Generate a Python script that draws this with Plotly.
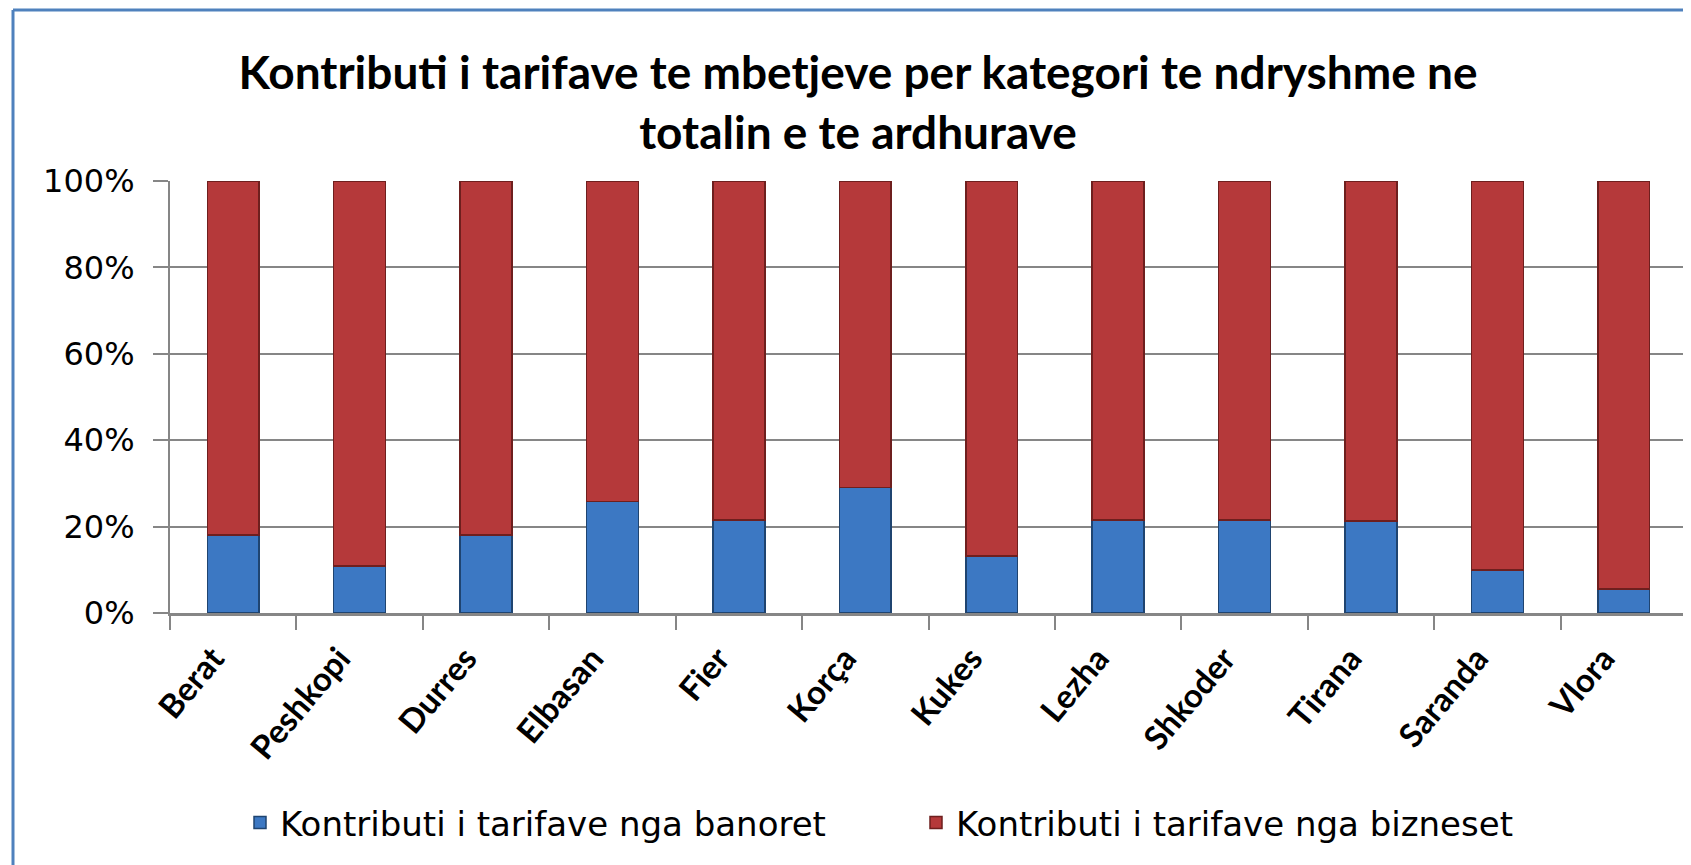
import plotly.graph_objects as go

categories = ["Berat", "Peshkopi", "Durres", "Elbasan", "Fier", "Korça",
              "Kukes", "Lezha", "Shkoder", "Tirana", "Saranda", "Vlora"]
banoret = [18.0, 10.9, 18.0, 25.8, 21.5, 29.1, 13.2, 21.5, 21.5, 21.3, 10.0, 5.6]
bizneset = [100 - v for v in banoret]
series_names = ["Kontributi i tarifave nga banoret", "Kontributi i tarifave nga bizneset"]
y_ticks = [0, 20, 40, 60, 80, 100]
y_tick_labels = ["0%", "20%", "40%", "60%", "80%", "100%"]
title_text = "Kontributi i tarifave te mbetjeve per kategori te ndryshme ne<br>totalin e te ardhurave"

# page body adds an 8px offset; figure coordinates are compensated
OFF = 8
W, H = 1691, 865
L, R, T, B = 170 - OFF, 12, 181 - OFF, 260
pw, ph = W - L - R, H - T - B

fig = go.Figure()
fig.add_trace(go.Bar(
    x=categories, y=banoret, name=series_names[0],
    marker=dict(color="#3C78C3", line=dict(color="#1F4470", width=1.5)),
))
fig.add_trace(go.Bar(
    x=categories, y=bizneset, name=series_names[1],
    marker=dict(color="#B5393A", line=dict(color="#6E1F1E", width=1.5)),
))

def px_x(x):
    return (x - OFF - L) / pw

def px_y(y):
    return (H - B - (y - OFF)) / ph

border = "#4F81BD"
fig.add_shape(type="line", xref="paper", yref="paper",
              x0=px_x(13), x1=px_x(W + 20), y0=px_y(10), y1=px_y(10),
              line=dict(color=border, width=3))
fig.add_shape(type="line", xref="paper", yref="paper",
              x0=px_x(13), x1=px_x(13), y0=px_y(10), y1=px_y(H + 20),
              line=dict(color=border, width=3))

fig.update_layout(
    width=W, height=H,
    barmode="stack", bargap=0.59,
    margin=dict(l=L, r=R, t=T, b=B),
    plot_bgcolor="white", paper_bgcolor="white",
    title=dict(text=title_text, xref="container", yref="container",
               x=(858 - OFF) / W, xanchor="center", y=1 - (89 - OFF) / H, yanchor="middle",
               font=dict(family="Lato", size=46, color="black", weight="bold")),
    legend=dict(orientation="h", xref="container", yref="container",
                x=(240 - OFF) / W, xanchor="left", y=1 - (823 - OFF) / H, yanchor="middle",
                font=dict(family="DejaVu Sans", size=34, color="black"),
                entrywidth=631, traceorder="normal"),
    showlegend=True,
)
fig.update_xaxes(
    type="category", tickangle=-50, tickson="boundaries",
    ticks="outside", ticklen=14, tickwidth=2, tickcolor="#868686",
    showline=True, linecolor="#868686", linewidth=3,
    tickfont=dict(family="Lato", size=33, color="black", weight="bold"),
    ticklabelshift=-20, ticklabelstandoff=10,
    showgrid=False,
)
fig.update_yaxes(
    range=[0, 100], tickmode="array", tickvals=y_ticks, ticktext=y_tick_labels,
    ticks="outside", ticklen=15, tickwidth=2, tickcolor="#868686",
    showline=True, linecolor="#868686", linewidth=2,
    showgrid=True, gridcolor="#868686", gridwidth=2,
    tickfont=dict(family="DejaVu Sans", size=32, color="black"),
    ticklabelstandoff=12, zeroline=False,
)

fig.write_html("out.html")
